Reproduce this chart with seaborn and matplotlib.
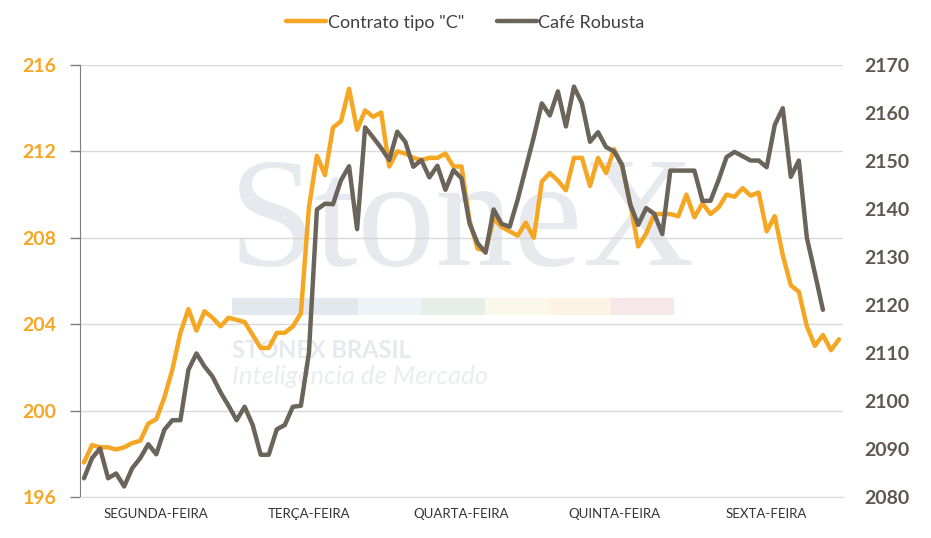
import numpy as np
import pandas as pd
import matplotlib
matplotlib.use("Agg")
import matplotlib.pyplot as plt
import seaborn as sns
from matplotlib.patches import Rectangle

# dias da semana (19 leituras por dia)
dias = ["SEGUNDA-FEIRA", "TERÇA-FEIRA", "QUARTA-FEIRA", "QUINTA-FEIRA", "SEXTA-FEIRA"]
pontos_por_dia = 19

# Contrato tipo "C" (eixo esquerdo)
arabica = [
    197.6, 198.4, 198.3, 198.3, 198.2, 198.3, 198.5, 198.6, 199.4, 199.6,
    200.6, 201.9, 203.6, 204.7, 203.7, 204.6, 204.3, 203.9, 204.3,
    204.2, 204.1, 203.5, 202.9, 202.9, 203.6, 203.6, 203.9, 204.5, 209.4,
    211.8, 210.9, 213.1, 213.4, 214.9, 213.0, 213.9, 213.6, 213.8,
    211.3, 212.0, 211.9, 211.7, 211.6, 211.7, 211.7, 211.9, 211.3, 211.3,
    208.8, 207.5, 207.4, 208.9, 208.5, 208.3, 208.1, 208.7, 208.0,
    210.6, 211.0, 210.65, 210.2, 211.7, 211.7, 210.4, 211.7, 211.0, 212.1,
    211.3, 209.6, 207.6, 208.2, 209.1, 209.1, 209.1, 209.0, 210.0,
    208.95, 209.6, 209.1, 209.4, 210.0, 209.9, 210.3, 209.95, 210.1, 208.3,
    209.0, 207.2, 205.8, 205.5, 203.9, 203.0, 203.5, 202.8, 203.3,
]

# Café Robusta (eixo direito)
robusta = [
    2083.9, 2088.1, 2090.1, 2083.9, 2084.9, 2082.2, 2086.0, 2088.1, 2091.0, 2088.9,
    2094.0, 2096.0, 2096.0, 2106.5, 2109.9, 2107.2, 2105.1, 2101.8, 2099.0,
    2096.0, 2098.8, 2095.0, 2088.8, 2088.8, 2094.1, 2095.0, 2098.8, 2099.0, 2110.0,
    2139.9, 2141.1, 2141.0, 2146.0, 2148.9, 2135.8, 2157.0, 2154.9, 2152.7,
    2150.2, 2156.1, 2154.0, 2148.8, 2150.2, 2146.6, 2149.0, 2144.0, 2148.1, 2146.4,
    2137.0, 2132.9, 2130.9, 2139.9, 2136.9, 2136.3, 2142.0, 2148.5, 2155.0,
    2162.0, 2159.5, 2164.5, 2157.2, 2165.5, 2162.0, 2154.0, 2156.0, 2152.9, 2152.0,
    2149.2, 2141.0, 2136.7, 2140.2, 2139.0, 2134.8, 2148.0, 2148.0, 2148.0,
    2148.0, 2141.7, 2141.7, 2146.0, 2150.8, 2151.9, 2151.0, 2150.1, 2150.1, 2148.7,
    2157.5, 2161.0, 2146.7, 2150.1, 2134.0, 2126.6, 2119.0, np.nan, np.nan,
]

ticks_esq = [196, 200, 204, 208, 212, 216]
ticks_dir = [2080, 2090, 2100, 2110, 2120, 2130, 2140, 2150, 2160, 2170]

laranja = "#F5A623"
cinza = "#6B645A"

df = pd.DataFrame({"pos": np.arange(len(arabica)), "C": arabica, "Robusta": robusta})

sns.set_style("white")
plt.rcParams["font.family"] = ["Lato", "DejaVu Sans"]

fig = plt.figure(figsize=(9.31, 5.38), dpi=100)
ax = fig.add_axes([80 / 931, 41 / 538, 763 / 931, 432 / 538])
ax2 = ax.twinx()

# marca d'agua
ax.text(0.5, 0.625, "StoneX", transform=ax.transAxes, ha="center", va="center",
        fontsize=112, family="Liberation Serif", color="#E6E9EE", zorder=0)
faixas = ["#E3E7EE", "#E3E7EE", "#EEF3F8", "#E5EFE7", "#FBF8EA", "#FDF3E5", "#F6E7E9"]
for k, c in enumerate(faixas):
    ax.add_patch(Rectangle((0.199 + k * 0.0828, 0.421), 0.0828, 0.04,
                           transform=ax.transAxes, color=c, lw=0, zorder=0))
ax.text(0.199, 0.34, "STONEX BRASIL", transform=ax.transAxes, ha="left", va="center",
        fontsize=17, fontweight="bold", color="#E6E9EE", zorder=0)
ax.text(0.199, 0.278, "Inteligência de Mercado", transform=ax.transAxes, ha="left",
        va="center", fontsize=18.5, style="italic", color="#E9ECF0", zorder=0)

sns.lineplot(data=df, x="pos", y="C", ax=ax, color=laranja, lw=3.2, label='Contrato tipo "C"', legend=False, zorder=3)
sns.lineplot(data=df, x="pos", y="Robusta", ax=ax2, color=cinza, lw=3.2, label="Café Robusta", legend=False, zorder=3)

n = len(arabica)
ax.set_xlim(-0.5, n - 0.5)
ax.set_ylim(196, 216)
ax2.set_ylim(2080, 2170)

ax.set_yticks(ticks_esq)
ax.set_yticklabels([str(t) for t in ticks_esq], color=laranja, fontsize=14, fontweight="bold")
ax2.set_yticks(ticks_dir)
ax2.set_yticklabels([str(t) for t in ticks_dir], color="#5E584F", fontsize=14, fontweight="bold")

limites = [-0.5 + pontos_por_dia * d for d in range(len(dias) + 1)]
centros = [pontos_por_dia * d + (pontos_por_dia - 1) / 2 for d in range(len(dias))]
ax.set_xticks(limites)
ax.set_xticklabels([])
ax.set_xticks(centros, minor=True)
ax.set_xticklabels(dias, minor=True, fontsize=9.5, color="#333333")
ax.tick_params(axis="x", which="major", length=7, color="#D9D9D9", width=1)
ax.tick_params(axis="x", which="minor", length=0, pad=8)
ax.tick_params(axis="y", length=7, color="#7F7F7F", width=1, pad=10)
ax2.tick_params(axis="y", length=0, pad=15)

ax.grid(axis="y", color="#D9D9D9", lw=1)
ax.set_xlabel("")
ax.set_ylabel("")
ax2.set_ylabel("")

for s in ["top", "right"]:
    ax.spines[s].set_visible(False)
for s in ["top", "right", "left", "bottom"]:
    ax2.spines[s].set_visible(False)
ax.spines["left"].set_color("#7F7F7F")
ax.spines["bottom"].set_color("#D9D9D9")

h1, l1 = ax.get_legend_handles_labels()
h2, l2 = ax2.get_legend_handles_labels()
fig.legend(h1 + h2, l1 + l2, loc="center", bbox_to_anchor=(0.5, 0.958), ncol=2,
           frameon=False, fontsize=13, handlelength=2.2, handletextpad=0.1,
           columnspacing=1.8, labelcolor="#404040")

fig.savefig("out.png", dpi=100)
